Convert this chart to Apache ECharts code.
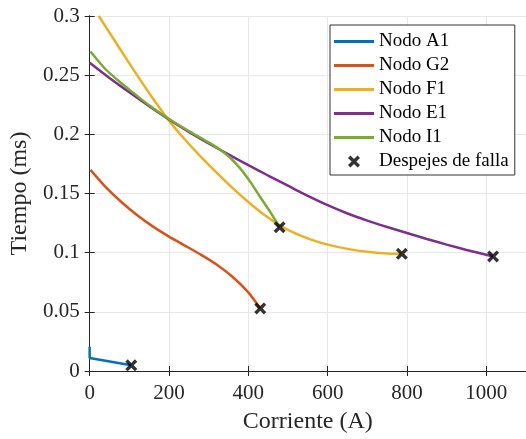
<!DOCTYPE html>
<html>
<head>
<meta charset="utf-8">
<script src="https://cdn.jsdelivr.net/npm/echarts@6/dist/echarts.min.js"></script>
<style>
    html, body { margin: 0; padding: 0; background: #fff; }
    #chart { width: 526px; height: 439px; }
</style>
</head>
<body>
<div id="chart"></div>
<script>
    // curvas tiempo-corriente: [corriente (A), tiempo (ms)]
    let nodoA1 = [[0, 0.0205], [0, 0.0110], [105, 0.0048]]
    let nodoG2 = [[2, 0.1700], [40, 0.1556], [80, 0.1428], [120, 0.1316], [160, 0.1220], [200, 0.1136],
        [240, 0.1060], [280, 0.0984], [320, 0.0900], [360, 0.0796], [400, 0.0664], [430, 0.0529]]
    let nodoF1 = [[23, 0.3000], [60, 0.2808], [100, 0.2600], [160, 0.2300], [200, 0.2116], [240, 0.1956],
        [280, 0.1812], [320, 0.1676], [360, 0.1548], [400, 0.1428], [440, 0.1320], [480, 0.1230],
        [520, 0.1160], [560, 0.1108], [600, 0.1068], [650, 0.1032], [700, 0.1007], [750, 0.0993], [787, 0.0990]]
    let nodoE1 = [[0, 0.2605], [50, 0.2477], [100, 0.2355], [150, 0.2238], [200, 0.2126], [250, 0.2021],
        [300, 0.1923], [350, 0.1830], [400, 0.1740], [450, 0.1652], [500, 0.1566], [532, 0.1510],
        [600, 0.1401], [650, 0.1331], [700, 0.1271], [750, 0.1217], [800, 0.1166], [850, 0.1116],
        [900, 0.1068], [950, 0.1023], [1017, 0.0968]]
    let nodoI1 = [[2, 0.2700], [40, 0.2550], [80, 0.2432], [100, 0.2378], [150, 0.2245], [200, 0.2130],
        [250, 0.2028], [300, 0.1932], [330, 0.1868], [355, 0.1800], [380, 0.1710], [405, 0.1598],
        [430, 0.1470], [455, 0.1345], [479, 0.1215]]
    let despejes = [[105, 0.0048], [430, 0.0529], [479, 0.1215], [787, 0.0990], [1017, 0.0968]]

    let nombres = ['Nodo A1', 'Nodo G2', 'Nodo F1', 'Nodo E1', 'Nodo I1']
    let curvas = [nodoA1, nodoG2, nodoF1, nodoE1, nodoI1]
    let colores = ['#0072BD', '#D95319', '#EDB120', '#7E2F8E', '#77AC30']

    let xTicks = {min: 0, max: 1100, interval: 200}
    let yTicks = {min: 0, max: 0.3, interval: 0.05}

    let fuente = 'Liberation Serif, Times New Roman, serif'
    let cruz = 'path://M0,2 L2,0 L5,3 L8,0 L10,2 L7,5 L10,8 L8,10 L5,7 L2,10 L0,8 L3,5 Z'
    let trazo = 'path://M0,0 L40,0 L40,3 L0,3 Z'

    let myChart = echarts.init(document.getElementById('chart'))

    let ejeBase = {
        type: 'value',
        axisLine: { show: true, lineStyle: { color: '#262626', width: 1 } },
        axisTick: { show: true, inside: true, length: 5, lineStyle: { color: '#262626' } }
    }

    myChart.setOption({
        animation: false,
        textStyle: { fontFamily: fuente },
        grid: { left: 88, top: 16, right: 0, bottom: 66 },
        legend: {
            orient: 'vertical',
            left: 330,
            top: 25,
            padding: [7, 6, 4, 4],
            itemGap: 5,
            itemWidth: 40,
            itemHeight: 12,
            backgroundColor: '#fff',
            borderColor: '#333',
            borderWidth: 1,
            borderRadius: 0,
            textStyle: { fontFamily: fuente, fontSize: 19, color: '#000' },
            data: nombres.map(n => {
                return { name: n, icon: trazo }
            }).concat([{ name: 'Despejes de falla', icon: cruz }])
        },
        xAxis: [
            Object.assign({}, ejeBase, xTicks, {
                position: 'bottom',
                name: 'Corriente (A)',
                nameLocation: 'middle',
                nameGap: 39,
                nameTextStyle: { fontFamily: fuente, fontSize: 24, color: '#262626' },
                axisLabel: {
                    fontFamily: fuente, fontSize: 21, color: '#262626', margin: 12, showMaxLabel: false,
                    formatter: v => String(v)
                },
                splitLine: { show: true, lineStyle: { color: '#e8e8e8', width: 1 } }
            }),
            Object.assign({}, ejeBase, xTicks, {
                position: 'top',
                axisLabel: { show: false },
                splitLine: { show: false }
            })
        ],
        yAxis: [
            Object.assign({}, ejeBase, yTicks, {
                position: 'left',
                name: 'Tiempo (ms)',
                nameLocation: 'middle',
                nameGap: 52,
                nameTextStyle: { fontFamily: fuente, fontSize: 24, color: '#262626' },
                axisLabel: { fontFamily: fuente, fontSize: 21, color: '#262626', margin: 10 },
                splitLine: { show: true, lineStyle: { color: '#e8e8e8', width: 1 } }
            }),
            Object.assign({}, ejeBase, yTicks, {
                position: 'right',
                axisLabel: { show: false },
                splitLine: { show: false }
            })
        ],
        series: curvas.map((d, i) => {
            return {
                name: nombres[i],
                type: 'line',
                data: d,
                symbol: 'none',
                smooth: i === 0 ? false : 0.2,
                lineStyle: { color: colores[i], width: 2.5 },
                itemStyle: { color: colores[i] }
            }
        }).concat([{
            name: 'Despejes de falla',
            type: 'scatter',
            data: despejes,
            symbol: cruz,
            symbolSize: 12,
            itemStyle: { color: '#000' },
            z: 5
        }])
    })
</script>
</body>
</html>
